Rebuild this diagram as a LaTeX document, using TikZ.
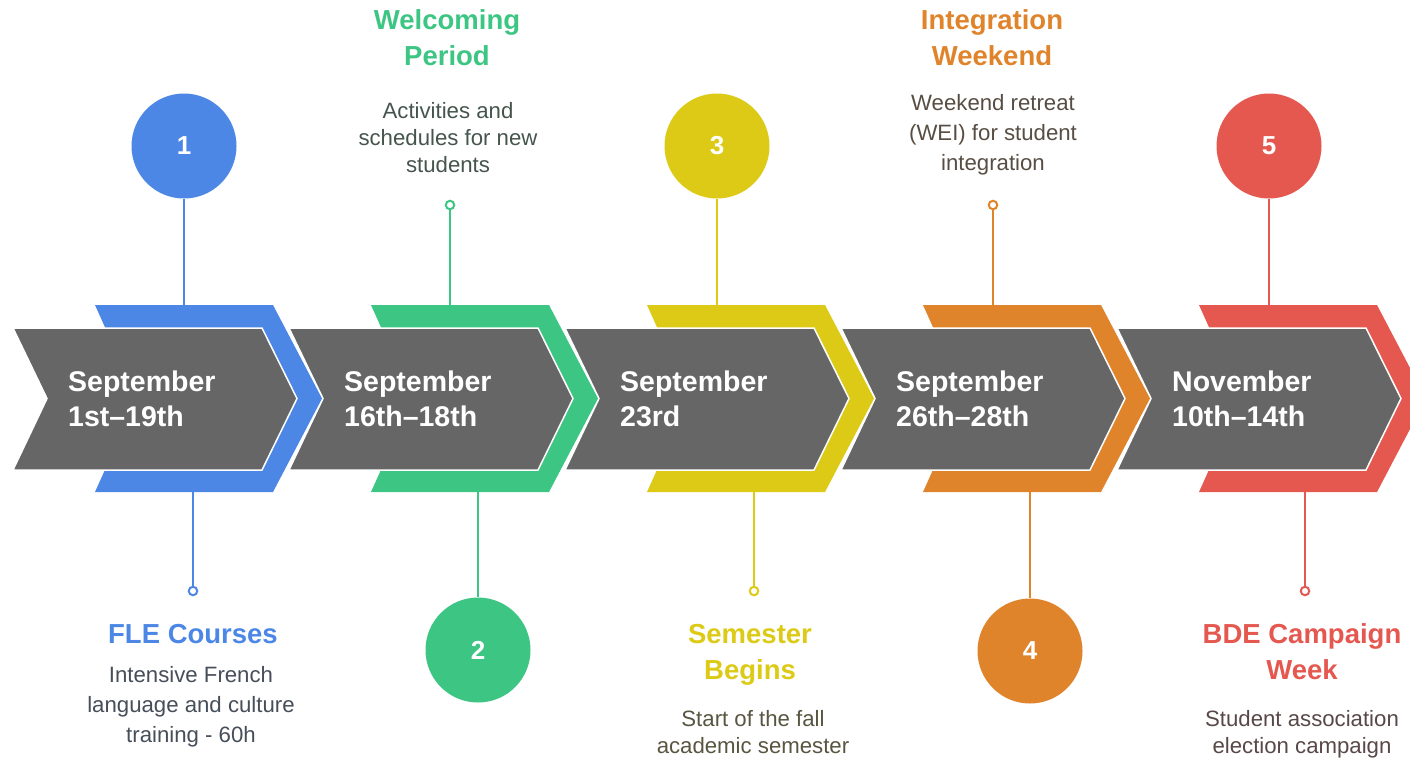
\documentclass[tikz,border=0pt]{standalone}
\usepackage{fontspec}
\setmainfont{Liberation Sans}
\definecolor{cblue}{HTML}{4C87E5}
\definecolor{cgreen}{HTML}{3DC583}
\definecolor{cyellow}{HTML}{DCCA16}
\definecolor{corange}{HTML}{E0842C}
\definecolor{cred}{HTML}{E45850}
\definecolor{arrowgray}{HTML}{666666}
\colorlet{dblue}{cblue!20!gray!60!black}
\colorlet{dgreen}{cgreen!20!gray!60!black}
\colorlet{dyellow}{cyellow!20!gray!60!black}
\colorlet{dorange}{corange!20!gray!60!black}
\colorlet{dred}{cred!20!gray!60!black}
\newcommand{\datefont}{\fontsize{28.5}{35}\bfseries\selectfont}
\newcommand{\numfont}{\fontsize{26}{30}\bfseries\selectfont}
\newcommand{\ttlfont}{\fontsize{27.5}{36}\bfseries\selectfont}
\tikzset{
  grayarrow/.style={fill=arrowgray, draw=white, line width=1.5pt, line join=miter},
  bandshape/.style={fill=#1},
  numcircle/.style={circle, fill=#1, minimum size=105pt, inner sep=0pt, text=white, font=\numfont},
  dotnode/.style={circle, draw=#1, fill=white, line width=2pt, minimum size=8.5pt, inner sep=0pt},
  conn/.style={draw=#1, line width=2.5pt},
  datetext/.style={anchor=base west, text=white, font=\datefont, inner sep=0pt, align=left},
  ttl/.style={anchor=base, text=#1, font=\ttlfont, inner sep=0pt, align=center},
  dsc/.style 2 args={anchor=base, text=#1, font=\fontsize{22.2}{#2}\selectfont, inner sep=0pt, align=center},
}
\begin{document}
\begin{tikzpicture}[x=1pt,y=-1pt]
\useasboundingbox (0,0) rectangle (1410,758);
\clip (0,0) rectangle (1410,758);
% bands and gray arrows, drawn from right to left
\foreach \i/\c in {5/cred,4/corange,3/cyellow,2/cgreen,1/cblue}{
  \pgfmathsetmacro{\d}{276*(\i-1)}
  \fill[bandshape=\c] (95+\d,305) -- (273+\d,305) -- (322+\d,398.5) -- (273+\d,492) -- (95+\d,492) -- (137+\d,398.5) -- cycle;
  \draw[grayarrow] (13+\d,328) -- (262+\d,328) -- (297+\d,398.5) -- (262+\d,470) -- (13+\d,470) -- (47+\d,398.5) -- cycle;
}
% dates (anchor = baseline of last line)
\node[datetext] (d1) at (68,426) {September\\1st–19th};
\node[datetext] (d2) at (344,426) {September\\16th–18th};
\node[datetext] (d3) at (620,426) {September\\23rd};
\node[datetext] (d4) at (896,426) {September\\26th–28th};
\node[datetext] (d5) at (1172,426) {November\\10th–14th};
% band anchor coordinates
\coordinate (t1) at (184,305);  \coordinate (b1) at (193,492);
\coordinate (t2) at (450,305);  \coordinate (b2) at (478,492);
\coordinate (t3) at (717,305);  \coordinate (b3) at (754,492);
\coordinate (t4) at (993,305);  \coordinate (b4) at (1030,492);
\coordinate (t5) at (1269,305); \coordinate (b5) at (1305,492);
% item 1
\node[numcircle=cblue] (n1) at (184,146) {1};
\draw[conn=cblue] (n1.south) -- (t1);
\node[dotnode=cblue] (p1) at (193,591) {};
\draw[conn=cblue] (b1) -- (p1);
\node[ttl=cblue] (h1) at (193,643) {FLE Courses};
\node[dsc={dblue}{30}] (x1) at (191,742) {Intensive French\\language and culture\\training - 60h};
% item 2
\node[dotnode=cgreen] (p2) at (450,205) {};
\draw[conn=cgreen] (p2) -- (t2);
\node[numcircle=cgreen] (n2) at (478,650) {2};
\draw[conn=cgreen] (b2) -- (n2.north);
\node[ttl=cgreen] (h2) at (447,65) {Welcoming\\Period};
\node[dsc={dgreen}{27}] (x2) at (448,172) {Activities and\\schedules for new\\students};
% item 3
\node[numcircle=cyellow] (n3) at (717,146) {3};
\draw[conn=cyellow] (n3.south) -- (t3);
\node[dotnode=cyellow] (p3) at (754,591) {};
\draw[conn=cyellow] (b3) -- (p3);
\node[ttl=cyellow] (h3) at (750,679) {Semester\\Begins};
\node[dsc={dyellow}{26.5}] (x3) at (753,753) {Start of the fall\\academic semester};
% item 4
\node[dotnode=corange] (p4) at (993,205) {};
\draw[conn=corange] (p4) -- (t4);
\node[numcircle=corange] (n4) at (1030,651) {4};
\draw[conn=corange] (b4) -- (n4.north);
\node[ttl=corange] (h4) at (992,65) {Integration\\Weekend};
\node[dsc={dorange}{30}] (x4) at (993,170) {Weekend retreat\\(WEI) for student\\integration};
% item 5
\node[numcircle=cred] (n5) at (1269,146) {5};
\draw[conn=cred] (n5.south) -- (t5);
\node[dotnode=cred] (p5) at (1305,591) {};
\draw[conn=cred] (b5) -- (p5);
\node[ttl=cred] (h5) at (1302,679) {BDE Campaign\\Week};
\node[dsc={dred}{26.5}] (x5) at (1302,753) {Student association\\election campaign};
\end{tikzpicture}
\end{document}
